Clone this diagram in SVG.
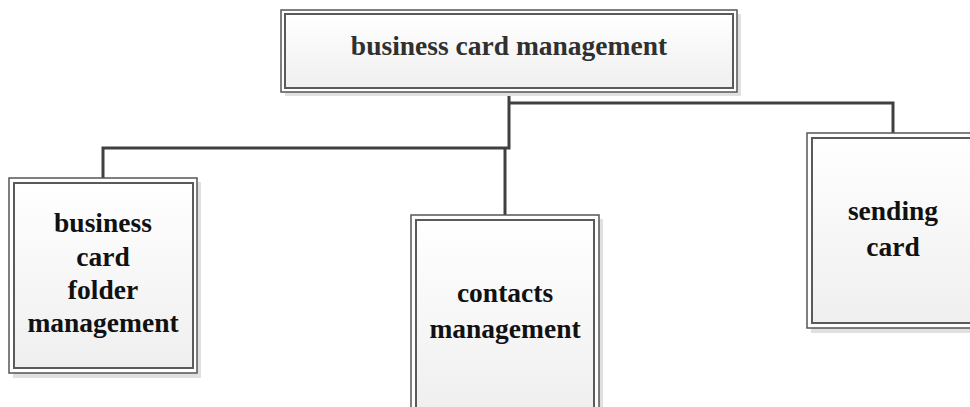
<svg xmlns="http://www.w3.org/2000/svg" width="970" height="407" viewBox="0 0 970 407">
<defs>
<linearGradient id="fillg" x1="0" y1="0" x2="0" y2="1">
<stop offset="0" stop-color="#ffffff"/>
<stop offset="1" stop-color="#efefef"/>
</linearGradient>
</defs>
<style>
.shadow{fill:#e0e0e0;stroke:none}
.outer{fill:#ffffff;stroke:#555555;stroke-width:1.5}
.inner{fill:url(#fillg);stroke:#5a5a5a;stroke-width:2}
.lbl{font-family:"Liberation Serif","Times New Roman",serif;font-weight:bold;font-size:27.5px;fill:#111111;text-anchor:middle}
.conn{fill:none;stroke:#404040;stroke-width:3}
</style>
<rect width="970" height="407" fill="#ffffff"/>
<g id="connectors">
<polyline class="conn" points="509,92 509,148 103,148 103,178"/>
<polyline class="conn" points="509,103 893,103 893,133"/>
<line class="conn" x1="505" y1="148" x2="505" y2="215"/>
</g>
<g id="root">
<rect class="shadow" x="285" y="14" width="456" height="82"/>
<rect class="outer" x="281" y="10" width="456" height="82"/>
<rect class="inner" x="285" y="14" width="448" height="74"/>
<text class="lbl" x="509" y="55" style="fill:#303030">business card management</text>
</g>
<g id="folder">
<rect class="shadow" x="13" y="182" width="188" height="196"/>
<rect class="outer" x="9" y="178" width="188" height="195"/>
<rect class="inner" x="14" y="183" width="179" height="185"/>
<text class="lbl" x="103" y="232">business</text>
<text class="lbl" x="103" y="266">card</text>
<text class="lbl" x="103" y="299">folder</text>
<text class="lbl" x="103" y="332">management</text>
</g>
<g id="contacts">
<rect class="shadow" x="415" y="219" width="188" height="200"/>
<rect class="outer" x="411" y="215" width="188" height="200"/>
<rect class="inner" x="416" y="220" width="178" height="190"/>
<text class="lbl" x="505" y="302">contacts</text>
<text class="lbl" x="505" y="338">management</text>
</g>
<g id="sending">
<rect class="shadow" x="811" y="137" width="188" height="196"/>
<rect class="outer" x="807" y="133" width="188" height="195"/>
<rect class="inner" x="812" y="138" width="178" height="185"/>
<text class="lbl" x="893" y="220">sending</text>
<text class="lbl" x="893" y="256">card</text>
</g>
</svg>
